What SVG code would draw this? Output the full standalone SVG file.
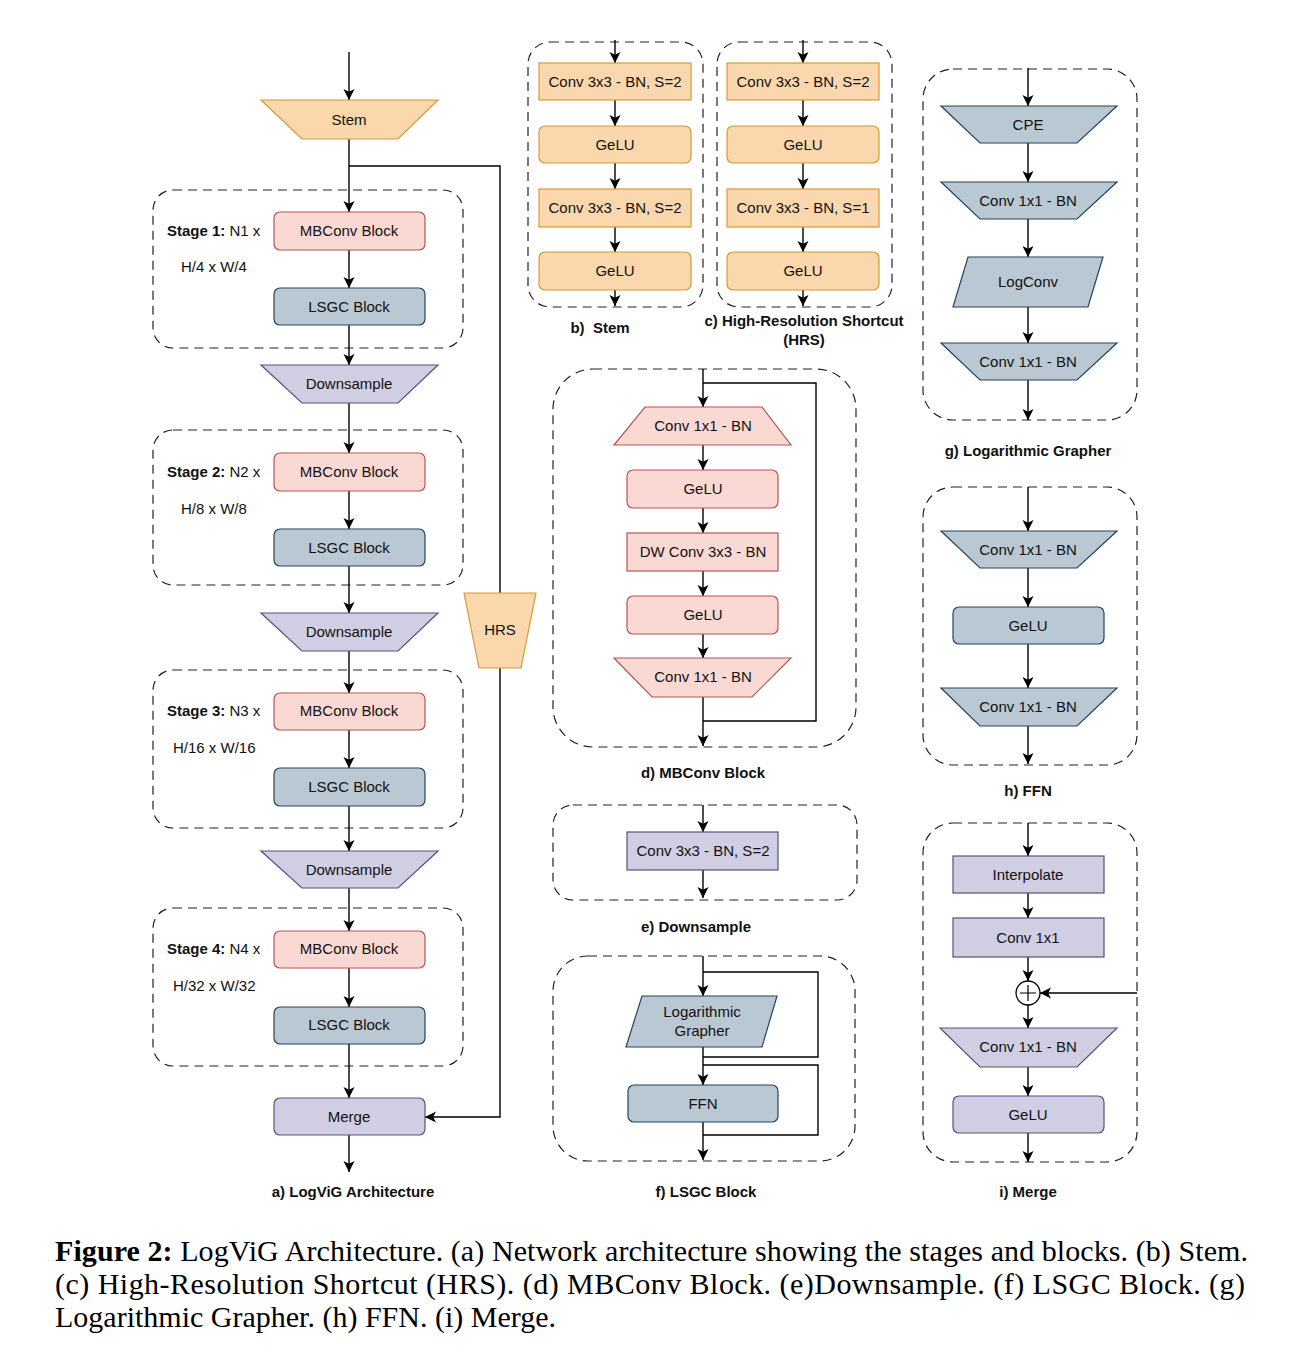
<svg xmlns="http://www.w3.org/2000/svg" width="1310" height="1365" viewBox="0 0 1310 1365">
<style>
text{font-family:"Liberation Sans",Arial,sans-serif;font-size:15px;fill:#111;text-anchor:middle}
.cap{font-weight:bold}
.lbl{text-anchor:start}
.fig{font-family:"Liberation Serif","Times New Roman",serif;font-size:30px;text-anchor:start;fill:#000}
.dash{fill:none;stroke:#222;stroke-width:1.2;stroke-dasharray:9 6}
.or{fill:#fad7ac;stroke:#d49a3a;stroke-width:1.2}
.pk{fill:#fad9d5;stroke:#b85450;stroke-width:1.2}
.bl{fill:#bac8d3;stroke:#23445d;stroke-width:1.2}
.pu{fill:#d0cee2;stroke:#56517e;stroke-width:1.2}
.c{fill:none;stroke:#000;stroke-width:1.4}
.a{marker-end:url(#ah)}
</style>
<defs>
<marker id="ah" markerUnits="userSpaceOnUse" markerWidth="12" markerHeight="12" refX="11" refY="5.5" orient="auto">
<path d="M0,0 L11,5.5 L0,11 L2.8,5.5 z" fill="#000"/>
</marker>
</defs>
<rect width="1310" height="1365" fill="#fff"/>

<!-- dashed containers -->
<g id="containers">
<rect class="dash" x="153" y="190" width="310" height="158" rx="20"/>
<rect class="dash" x="153" y="430" width="310" height="155" rx="20"/>
<rect class="dash" x="153" y="670" width="310" height="158" rx="20"/>
<rect class="dash" x="153" y="908" width="310" height="158" rx="20"/>
<rect class="dash" x="528" y="42" width="175" height="265" rx="22"/>
<rect class="dash" x="717" y="42" width="175" height="265" rx="22"/>
<rect class="dash" x="553" y="369" width="303" height="378" rx="40"/>
<rect class="dash" x="553" y="805" width="304" height="95" rx="20"/>
<rect class="dash" x="553" y="956" width="302" height="205" rx="35"/>
<rect class="dash" x="923" y="69" width="214" height="351" rx="30"/>
<rect class="dash" x="923" y="487" width="214" height="278" rx="30"/>
<rect class="dash" x="923" y="823" width="214" height="339" rx="30"/>
</g>

<!-- connectors -->
<g id="connectors">
<path class="c a" d="M349,52 V100"/>
<path class="c a" d="M349,139 V212"/>
<path class="c" d="M349,166 H500 V593"/>
<path class="c a" d="M500,668 V1117 H425"/>
<path class="c a" d="M349,250 V288"/>
<path class="c a" d="M349,325 V365"/>
<path class="c a" d="M349,403 V453"/>
<path class="c a" d="M349,491 V529"/>
<path class="c a" d="M349,566 V613"/>
<path class="c a" d="M349,651 V693"/>
<path class="c a" d="M349,730 V768"/>
<path class="c a" d="M349,806 V851"/>
<path class="c a" d="M349,888 V931"/>
<path class="c a" d="M349,968 V1007"/>
<path class="c a" d="M349,1044 V1098"/>
<path class="c a" d="M349,1135 V1172"/>
<!-- b -->
<path class="c a" d="M615,40 V63"/>
<path class="c a" d="M615,100 V126"/>
<path class="c a" d="M615,163 V189"/>
<path class="c a" d="M615,227 V252"/>
<path class="c a" d="M615,290 V306"/>
<!-- c -->
<path class="c a" d="M803,40 V63"/>
<path class="c a" d="M803,100 V126"/>
<path class="c a" d="M803,163 V189"/>
<path class="c a" d="M803,227 V252"/>
<path class="c a" d="M803,290 V306"/>
<!-- d -->
<path class="c a" d="M703,369 V407"/>
<path class="c" d="M703,383 H816 V721 H703"/>
<path class="c a" d="M703,445 V470"/>
<path class="c a" d="M703,508 V533"/>
<path class="c a" d="M703,571 V596"/>
<path class="c a" d="M703,634 V658"/>
<path class="c a" d="M703,697 V746"/>
<!-- e -->
<path class="c a" d="M703,805 V832"/>
<path class="c a" d="M703,870 V898"/>
<!-- f -->
<path class="c a" d="M703,956 V996"/>
<path class="c" d="M703,972 H818 V1057 H703"/>
<path class="c a" d="M703,1047 V1085"/>
<path class="c" d="M703,1065 H818 V1135 H703"/>
<path class="c a" d="M703,1122 V1160"/>
<!-- g -->
<path class="c a" d="M1028,68 V106"/>
<path class="c a" d="M1028,143 V182"/>
<path class="c a" d="M1028,219 V257"/>
<path class="c a" d="M1028,307 V343"/>
<path class="c a" d="M1028,380 V420"/>
<!-- h -->
<path class="c a" d="M1028,487 V531"/>
<path class="c a" d="M1028,568 V607"/>
<path class="c a" d="M1028,644 V688"/>
<path class="c a" d="M1028,726 V764"/>
<!-- i -->
<path class="c a" d="M1028,823 V856"/>
<path class="c a" d="M1028,893 V918"/>
<path class="c a" d="M1028,957 V981"/>
<path class="c a" d="M1028,1005 V1028"/>
<path class="c a" d="M1028,1067 V1096"/>
<path class="c a" d="M1028,1133 V1162"/>
<path class="c a" d="M1137,993 H1040"/>
</g>

<!-- a) architecture -->
<g id="a-stem"><polygon class="or" points="261,100 438,100 398,139 302,139"/><text x="349" y="125">Stem</text></g>
<g id="a-hrs"><polygon class="or" points="464,593 536,593 521,668 479,668"/><text x="500" y="635">HRS</text></g>

<g id="a-stage1">
<text class="lbl" x="167" y="236"><tspan font-weight="bold">Stage 1:</tspan> N1 x</text>
<text class="lbl" x="181" y="272">H/4 x W/4</text>
</g>
<g id="a-mb1"><rect class="pk" x="274" y="212" width="151" height="38" rx="6"/><text x="349" y="236">MBConv Block</text></g>
<g id="a-ls1"><rect class="bl" x="274" y="288" width="151" height="37" rx="6"/><text x="349" y="312">LSGC Block</text></g>
<g id="a-ds1"><polygon class="pu" points="261,365 438,365 398,403 302,403"/><text x="349" y="389">Downsample</text></g>

<g id="a-stage2">
<text class="lbl" x="167" y="477"><tspan font-weight="bold">Stage 2:</tspan> N2 x</text>
<text class="lbl" x="181" y="514">H/8 x W/8</text>
</g>
<g id="a-mb2"><rect class="pk" x="274" y="453" width="151" height="38" rx="6"/><text x="349" y="477">MBConv Block</text></g>
<g id="a-ls2"><rect class="bl" x="274" y="529" width="151" height="37" rx="6"/><text x="349" y="553">LSGC Block</text></g>
<g id="a-ds2"><polygon class="pu" points="261,613 438,613 398,651 302,651"/><text x="349" y="637">Downsample</text></g>

<g id="a-stage3">
<text class="lbl" x="167" y="716"><tspan font-weight="bold">Stage 3:</tspan> N3 x</text>
<text class="lbl" x="173" y="753">H/16 x W/16</text>
</g>
<g id="a-mb3"><rect class="pk" x="274" y="693" width="151" height="37" rx="6"/><text x="349" y="716">MBConv Block</text></g>
<g id="a-ls3"><rect class="bl" x="274" y="768" width="151" height="38" rx="6"/><text x="349" y="792">LSGC Block</text></g>
<g id="a-ds3"><polygon class="pu" points="261,851 438,851 398,888 302,888"/><text x="349" y="875">Downsample</text></g>

<g id="a-stage4">
<text class="lbl" x="167" y="954"><tspan font-weight="bold">Stage 4:</tspan> N4 x</text>
<text class="lbl" x="173" y="991">H/32 x W/32</text>
</g>
<g id="a-mb4"><rect class="pk" x="274" y="931" width="151" height="37" rx="6"/><text x="349" y="954">MBConv Block</text></g>
<g id="a-ls4"><rect class="bl" x="274" y="1007" width="151" height="37" rx="6"/><text x="349" y="1030">LSGC Block</text></g>
<g id="a-merge"><rect class="pu" x="274" y="1098" width="151" height="37" rx="6"/><text x="349" y="1122">Merge</text></g>

<!-- b) stem -->
<g id="b-conv1"><rect class="or" x="539" y="63" width="152" height="37"/><text x="615" y="87">Conv 3x3 - BN, S=2</text></g>
<g id="b-gelu1"><rect class="or" x="539" y="126" width="152" height="37" rx="6"/><text x="615" y="150">GeLU</text></g>
<g id="b-conv2"><rect class="or" x="539" y="189" width="152" height="38"/><text x="615" y="213">Conv 3x3 - BN, S=2</text></g>
<g id="b-gelu2"><rect class="or" x="539" y="252" width="152" height="38" rx="6"/><text x="615" y="276">GeLU</text></g>

<!-- c) HRS -->
<g id="c-conv1"><rect class="or" x="727" y="63" width="152" height="37"/><text x="803" y="87">Conv 3x3 - BN, S=2</text></g>
<g id="c-gelu1"><rect class="or" x="727" y="126" width="152" height="37" rx="6"/><text x="803" y="150">GeLU</text></g>
<g id="c-conv2"><rect class="or" x="727" y="189" width="152" height="38"/><text x="803" y="213">Conv 3x3 - BN, S=1</text></g>
<g id="c-gelu2"><rect class="or" x="727" y="252" width="152" height="38" rx="6"/><text x="803" y="276">GeLU</text></g>

<!-- d) MBConv -->
<g id="d-conv1"><polygon class="pk" points="645,407 762,407 791,445 614,445"/><text x="703" y="431">Conv 1x1 - BN</text></g>
<g id="d-gelu1"><rect class="pk" x="627" y="470" width="151" height="38" rx="6"/><text x="703" y="494">GeLU</text></g>
<g id="d-dw"><rect class="pk" x="627" y="533" width="151" height="38"/><text x="703" y="557">DW Conv 3x3 - BN</text></g>
<g id="d-gelu2"><rect class="pk" x="627" y="596" width="151" height="38" rx="6"/><text x="703" y="620">GeLU</text></g>
<g id="d-conv2"><polygon class="pk" points="614,658 791,658 752,697 652,697"/><text x="703" y="682">Conv 1x1 - BN</text></g>

<!-- e) Downsample -->
<g id="e-conv"><rect class="pu" x="627" y="832" width="151" height="38"/><text x="703" y="856">Conv 3x3 - BN, S=2</text></g>

<!-- f) LSGC -->
<g id="f-lg"><polygon class="bl" points="642,996 777,996 762,1047 626,1047"/><text x="702" y="1017">Logarithmic</text><text x="702" y="1036">Grapher</text></g>
<g id="f-ffn"><rect class="bl" x="628" y="1085" width="150" height="37" rx="6"/><text x="703" y="1109">FFN</text></g>

<!-- g) Logarithmic Grapher -->
<g id="g-cpe"><polygon class="bl" points="941,106 1117,106 1077,143 980,143"/><text x="1028" y="130">CPE</text></g>
<g id="g-conv1"><polygon class="bl" points="941,182 1117,182 1077,219 980,219"/><text x="1028" y="206">Conv 1x1 - BN</text></g>
<g id="g-logconv"><polygon class="bl" points="968,257 1103,257 1088,307 953,307"/><text x="1028" y="287">LogConv</text></g>
<g id="g-conv2"><polygon class="bl" points="941,343 1117,343 1077,380 980,380"/><text x="1028" y="367">Conv 1x1 - BN</text></g>

<!-- h) FFN -->
<g id="h-conv1"><polygon class="bl" points="941,531 1117,531 1077,568 980,568"/><text x="1028" y="555">Conv 1x1 - BN</text></g>
<g id="h-gelu"><rect class="bl" x="953" y="607" width="151" height="37" rx="6"/><text x="1028" y="631">GeLU</text></g>
<g id="h-conv2"><polygon class="bl" points="941,688 1117,688 1077,726 980,726"/><text x="1028" y="712">Conv 1x1 - BN</text></g>

<!-- i) Merge -->
<g id="i-interp"><rect class="pu" x="953" y="856" width="151" height="37"/><text x="1028" y="880">Interpolate</text></g>
<g id="i-conv"><rect class="pu" x="953" y="918" width="151" height="39"/><text x="1028" y="943">Conv 1x1</text></g>
<g id="i-add"><circle cx="1028" cy="993" r="12" fill="#fff" stroke="#000" stroke-width="1.3"/><path d="M1020,993 H1036 M1028,985 V1001" stroke="#000" stroke-width="1.2"/></g>
<g id="i-conv2"><polygon class="pu" points="940,1028 1117,1028 1077,1067 980,1067"/><text x="1028" y="1052">Conv 1x1 - BN</text></g>
<g id="i-gelu"><rect class="pu" x="953" y="1096" width="151" height="37" rx="6"/><text x="1028" y="1120">GeLU</text></g>

<!-- captions -->
<g id="captions">
<text class="cap" x="353" y="1197">a) LogViG Architecture</text>
<text class="cap" x="600" y="333" xml:space="preserve">b)  Stem</text>
<text class="cap" x="804" y="326">c) High-Resolution Shortcut</text>
<text class="cap" x="804" y="345">(HRS)</text>
<text class="cap" x="703" y="778">d) MBConv Block</text>
<text class="cap" x="696" y="932">e) Downsample</text>
<text class="cap" x="706" y="1197">f) LSGC Block</text>
<text class="cap" x="1028" y="456">g) Logarithmic Grapher</text>
<text class="cap" x="1028" y="796">h) FFN</text>
<text class="cap" x="1028" y="1197">i) Merge</text>
</g>

<g id="figure-caption">
<text class="fig" x="55" y="1261" textLength="1193" lengthAdjust="spacing"><tspan font-weight="bold">Figure 2:</tspan> LogViG Architecture. (a) Network architecture showing the stages and blocks. (b) Stem.</text>
<text class="fig" x="55" y="1294" textLength="1190" lengthAdjust="spacing">(c) High-Resolution Shortcut (HRS). (d) MBConv Block. (e)Downsample. (f) LSGC Block. (g)</text>
<text class="fig" x="55" y="1327">Logarithmic Grapher. (h) FFN. (i) Merge.</text>
</g>
</svg>
